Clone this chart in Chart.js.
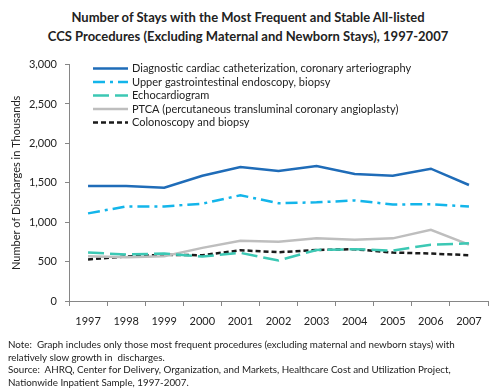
<!DOCTYPE html>
<html>
<head>
<meta charset="utf-8">
<script src="https://cdn.jsdelivr.net/npm/chart.js@4"></script>
<style>
  body { margin: 0; background: #fff; }
  #wrap { position: relative; width: 496px; height: 391px; overflow: hidden; font-family: Lato, "Open Sans", sans-serif; }
  #title { position: absolute; left: 0; top: 8px; width: 496px; text-align: center; font-weight: bold; font-size: 13px; line-height: 19px; color: #222; }
  #box { position: absolute; left: 0; top: 50px; width: 496px; height: 290px; }
  #note { position: absolute; left: 8px; top: 338px; font-size: 9.8px; line-height: 12.7px; color: #222; white-space: nowrap; }
</style>
</head>
<body>
<div id="wrap">
  <div id="title">Number of Stays with the Most Frequent and Stable All-listed<br>CCS Procedures (Excluding Maternal and Newborn Stays), 1997-2007</div>
  <div id="box"><canvas id="chart"></canvas></div>
  <div id="note">Note:&nbsp; Graph includes only those most frequent procedures (excluding maternal and newborn stays) with<br>relatively slow growth in&nbsp; discharges.<br>Source:&nbsp; AHRQ, Center for Delivery, Organization, and Markets, Healthcare Cost and Utilization Project,<br>Nationwide Inpatient Sample, 1997-2007.</div>
</div>
<script>
// Years on the x axis
const years = ['1997', '1998', '1999', '2000', '2001', '2002', '2003', '2004', '2005', '2006', '2007'];

// Discharges in thousands
const cardiacCath = [1458, 1458, 1437, 1590, 1700, 1650, 1714, 1612, 1591, 1679, 1472];
const upperGI = [1112, 1200, 1200, 1235, 1342, 1240, 1252, 1276, 1225, 1228, 1200];
const echo = [615, 590, 602, 565, 611, 514, 648, 657, 640, 715, 732];
const ptca = [568, 556, 568, 674, 765, 753, 795, 778, 795, 903, 715];
const colonoscopy = [527, 565, 586, 581, 644, 619, 648, 657, 615, 602, 581];

const yTicks = [0, 500, 1000, 1500, 2000, 2500, 3000];

const font = 'Lato, "Open Sans", sans-serif';

const series = [
  { label: 'Diagnostic cardiac catheterization, coronary arteriography', data: cardiacCath, color: '#1F6CB8', dash: [] },
  { label: 'Upper gastrointestinal endoscopy, biopsy', data: upperGI, color: '#13B5EA', dash: [12, 5, 3, 5] },
  { label: 'Echocardiogram', data: echo, color: '#3CC8B4', dash: [16, 6] },
  { label: 'PTCA (percutaneous transluminal coronary angioplasty)', data: ptca, color: '#BEBEBE', dash: [] },
  { label: 'Colonoscopy and biopsy', data: colonoscopy, color: '#1A1A1A', dash: [5, 3] }
];

// Legend drawn inside the plot area, top-left
const insideLegend = {
  id: 'insideLegend',
  afterDraw(chart) {
    const ctx = chart.ctx;
    const x0 = chart.chartArea.left + 24;
    let y = chart.chartArea.top + 4;
    ctx.save();
    ctx.font = '11px ' + font;
    ctx.textBaseline = 'middle';
    chart.data.datasets.forEach(ds => {
      ctx.strokeStyle = ds.borderColor;
      ctx.lineWidth = 2.5;
      ctx.setLineDash(ds.borderDash || []);
      ctx.beginPath();
      ctx.moveTo(x0, y);
      ctx.lineTo(x0 + 35, y);
      ctx.stroke();
      ctx.setLineDash([]);
      ctx.fillStyle = '#222';
      ctx.fillText(ds.label, x0 + 39, y);
      y += 13.5;
    });
    ctx.restore();
  }
};

new Chart(document.getElementById('chart'), {
  type: 'line',
  data: {
    labels: years,
    datasets: series.map(s => ({
      label: s.label,
      data: s.data,
      borderColor: s.color,
      backgroundColor: s.color,
      borderDash: s.dash,
      borderWidth: 2.5,
      pointRadius: 0,
      tension: 0
    }))
  },
  options: {
    responsive: true,
    maintainAspectRatio: false,
    animation: false,
    layout: { padding: { top: 12, right: 8, left: 0, bottom: 0 } },
    plugins: {
      legend: { display: false },
      tooltip: { enabled: false }
    },
    scales: {
      x: {
        offset: true,
        grid: { offset: true, drawOnChartArea: false, tickLength: 5, color: '#868686' },
        border: { color: '#868686' },
        ticks: { color: '#222', font: { family: font, size: 11 }, padding: 9, maxRotation: 0 },
        afterFit(scale) { scale.height = 39; }
      },
      y: {
        min: 0,
        max: 3000,
        afterBuildTicks(scale) { scale.ticks = yTicks.map(v => ({ value: v })); },
        grid: { drawOnChartArea: false, tickLength: 4, color: '#868686' },
        border: { color: '#868686' },
        ticks: {
          color: '#222',
          font: { family: font, size: 11 },
          padding: 8,
          callback: v => v.toLocaleString('en-US')
        },
        title: {
          display: true,
          text: 'Number of Discharges in Thousands',
          color: '#222',
          font: { family: font, size: 11 },
          padding: { top: 10, bottom: 0 }
        },
        afterFit(scale) { scale.width = 69; }
      }
    }
  },
  plugins: [insideLegend]
});
</script>
</body>
</html>
